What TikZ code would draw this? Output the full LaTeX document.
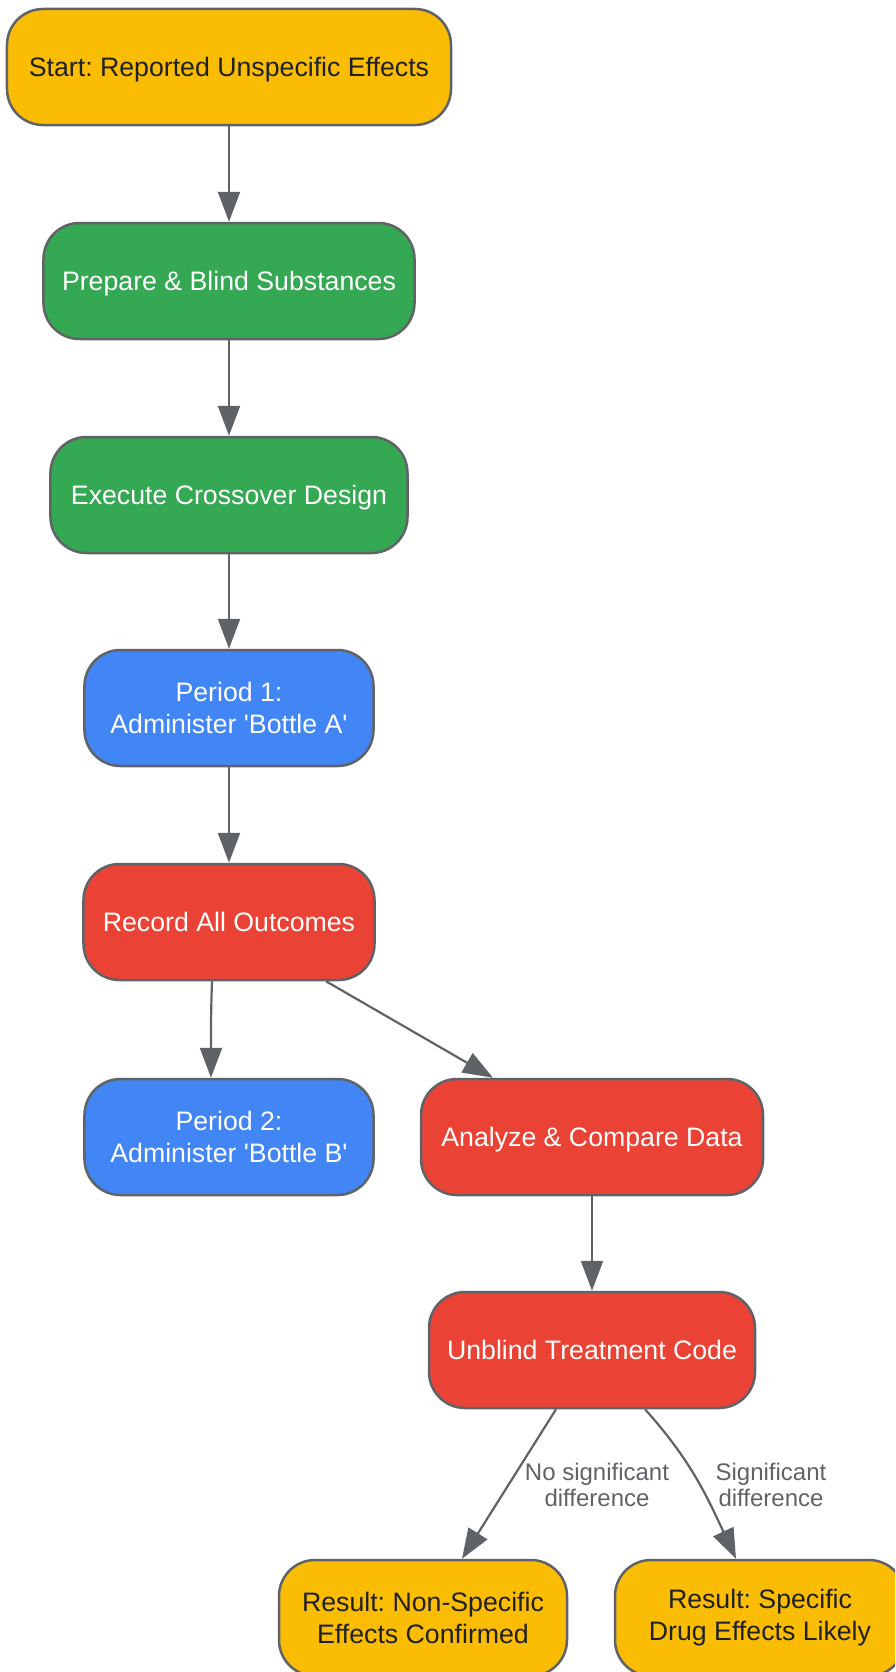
\documentclass[tikz,border=0pt]{standalone}
\usepackage{fontspec}
\setmainfont{Liberation Sans}
\usepackage{tikz}
\usepackage{xcolor}
\usetikzlibrary{arrows.meta}

\definecolor{gyellow}{HTML}{FBBC04}
\definecolor{ggreen}{HTML}{34A853}
\definecolor{gblue}{HTML}{4285F4}
\definecolor{gred}{HTML}{EA4335}
\definecolor{edgegrey}{HTML}{5F6368}
\definecolor{inkdark}{HTML}{202124}

\begin{document}
\frenchspacing
\begin{tikzpicture}[x=1bp,y=1bp,
		box/.style={draw=edgegrey,line width=2.5bp,rounded corners=36bp,minimum height=116bp,
			inner sep=0pt,align=center,font=\fontsize{26.7bp}{32bp}\selectfont},
		oneline/.style={text depth=0pt},
		endbox/.style={box,fill=gyellow,text=inkdark},
		prepbox/.style={box,oneline,fill=ggreen,text=white},
		dosebox/.style={box,fill=gblue,text=white},
		databox/.style={box,oneline,fill=gred,text=white},
		flow/.style={draw=edgegrey,line width=2.2bp,-{Triangle[length=30bp,width=22bp]}},
		lbl/.style={text=edgegrey,align=center,font=\fontsize{24bp}{26bp}\selectfont}]
		\def \xL {229};
		\def \xR {592};
		\clip (0,0) rectangle (895,-1672);
		\node[endbox,oneline,minimum width=444bp] (start) at (\xL,-67) {Start: Reported Unspecific Effects};
		\node[prepbox,minimum width=371bp] (prep) at (\xL,-281) {Prepare \& Blind Substances};
		\node[prepbox,minimum width=357bp] (exec) at (\xL,-495) {Execute Crossover Design};
		\node[dosebox,minimum width=289bp] (pa) at (\xL,-708) {Period 1:\\Administer \textquotesingle Bottle A\textquotesingle};
		\node[databox,minimum width=291bp] (rec) at (\xL,-922) {Record All Outcomes};
		\node[dosebox,minimum width=289bp] (pb) at (\xL,-1137) {Period 2:\\Administer \textquotesingle Bottle B\textquotesingle};
		\node[databox,minimum width=342bp] (ana) at (\xR,-1137) {Analyze \& Compare Data};
		\node[databox,minimum width=326bp] (unb) at (\xR,-1350) {Unblind Treatment Code};
		\node[endbox,minimum width=288bp] (resno) at (423,-1618) {Result: Non-Specific\\Effects Confirmed};
		\node[endbox,minimum width=290bp] (resyes) at (760,-1618) {Result: Specific\\Drug Effects Likely};

		\foreach \a/\b in {start/prep,prep/exec,exec/pa,pa/rec,ana/unb}
		{
			\draw[flow] (\a) -- (\b);
		}
		\draw[flow] ([xshift=-17bp]rec.south) to[out=-92,in=90] ([xshift=-18bp]pb.north);
		\draw[flow] ([xshift=97bp]rec.south) -- ([xshift=-99bp]ana.north);
		\draw[flow] ([xshift=-36bp]unb.south) -- ([xshift=39bp]resno.north);
		\draw[flow] ([xshift=53bp]unb.south) to[out=-48,in=115] ([xshift=-24bp]resyes.north);
		\node[lbl] (lblno) at (597,-1485) {No significant\\difference};
		\node[lbl] (lblyes) at (771,-1485) {Significant\\difference};
\end{tikzpicture}
\end{document}
